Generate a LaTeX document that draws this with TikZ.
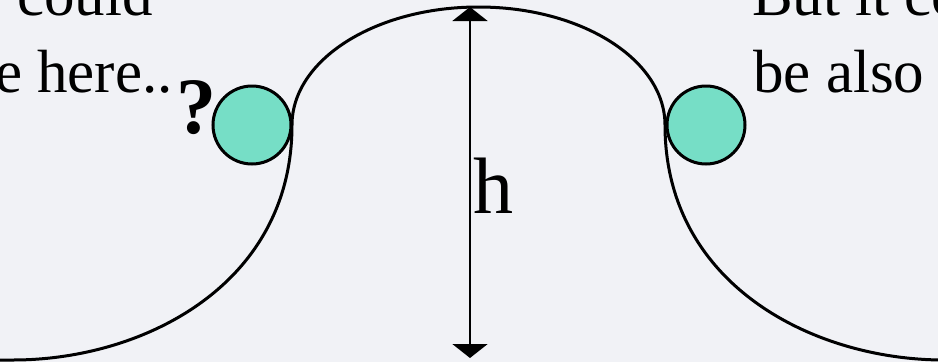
\documentclass[tikz,border=0pt]{standalone}
\usepackage{fontspec}
\setmainfont{Liberation Serif}
\usetikzlibrary{arrows.meta}
\definecolor{bgc}{RGB}{241,242,246}
\definecolor{ballc}{RGB}{118,222,198}
\begin{document}
\begin{tikzpicture}[x=1pt,y=-1pt,
  ball/.style={circle,draw=black,line width=3pt,fill=ballc,minimum size=78pt,inner sep=0pt},
  txt/.style={inner sep=0pt,font=\fontsize{61}{70}\selectfont},
  big/.style={inner sep=0pt,font=\fontsize{80}{90}\selectfont},
  track/.style={line width=3pt,black},
  hline/.style={line width=2.2pt,{Triangle[width=35pt,length=14pt]}-{Triangle[width=35pt,length=14pt]}}]
\useasboundingbox (0,0) rectangle (938,362);
\fill[bgc] (0,0) rectangle (938,362);
\clip (0,0) rectangle (938,362);
% track
\draw[track] (-20,360) -- (13,360)
  .. controls (143,360) and (292,285) .. (292,125)
  .. controls (292,60) and (375,7) .. (478.5,7)
  .. controls (582,7) and (665,60) .. (665,125)
  .. controls (665,285) and (814,360) .. (944,360);
% balls
\node[ball] (lb) at (252,125) {};
\node[ball] (rb) at (706,125) {};
% height arrow
\coordinate (htop) at (470,7);
\coordinate (hbot) at (470,358);
\draw[hline] (hbot) -- (htop);
\node[big,anchor=base west] (h) at (473,213) {h};
% texts
\node[txt,anchor=base east] (l1) at (153,15) {could};
\node[txt,anchor=base east] (l2) at (173,92) {e here..};
\node[big,anchor=base,font=\fontsize{80}{90}\selectfont\bfseries] (q) at (196,133) {?};
\node[txt,anchor=base west] (r1) at (752,15) {But it co};
\node[txt,anchor=base west] (r2) at (753,92) {be also};
\end{tikzpicture}
\end{document}
